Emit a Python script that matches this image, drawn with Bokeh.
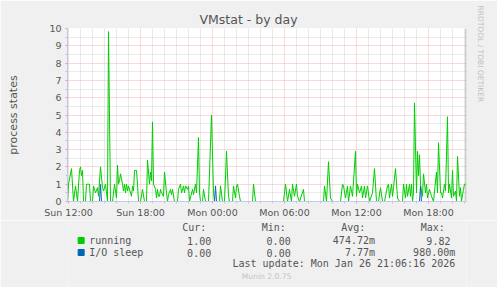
import math
from bokeh.plotting import figure
from bokeh.layouts import column
from bokeh.models import Range1d, FixedTicker, Label, Span, Title
from bokeh.embed import file_html
from bokeh.resources import INLINE

# ---- data: sample index (5-minute steps since Sun 12:00) and value ----
running_step = [-1, 0, 3, 5, 7, 9, 11, 12, 13, 14, 15, 17, 18, 21, 22, 24, 25, 27, 29, 30,
                32, 34, 35, 37, 39, 40, 42, 44, 46, 48, 49, 50, 51, 52, 54, 55, 56, 57, 58, 59,
                60, 62, 63, 64, 65, 66, 68, 69, 70, 72, 74, 76, 78, 79, 81, 82, 83, 84, 85, 87,
                88, 89, 90, 91, 92, 93, 95, 96, 98, 99, 100, 102, 103, 104, 106, 109, 110, 112, 113, 115,
                116, 117, 119, 120, 121, 124, 125, 127, 128, 130, 131, 132, 134, 135, 137, 140, 143, 145, 146, 151,
                152, 154, 156, 158, 160, 161, 164, 165, 167, 168, 169, 171, 172, 184, 185, 187, 215, 217, 219, 221,
                223, 224, 226, 228, 229, 231, 235, 236, 255, 256, 258, 260, 262, 264, 272, 274, 275, 277, 279, 280,
                282, 284, 287, 288, 289, 291, 293, 294, 296, 297, 299, 301, 304, 306, 308, 310, 312, 314, 316, 319,
                320, 321, 323, 324, 325, 327, 329, 331, 334, 335, 337, 338, 339, 341, 342, 343, 344, 345, 346, 348,
                349, 350, 351, 352, 353, 354, 355, 357, 358, 359, 361, 362, 363, 365, 366, 368, 369, 370, 372, 373,
                374, 376, 377, 379, 380, 381, 383, 384, 385, 387, 388, 389, 391, 392, 393, 395, 396, 397]
running_val = [0, 1.0, 1.9, 0, 0.9, 0, 1.8, 2.0, 1.5, 1.8, 0, 0, 1.0, 1.0, 0, 0, 0.9, 0.5, 0.8, 0.3,
               2.0, 0.8, 0.6, 1.0, 0, 9.82, 0, 0, 1.0, 0.2, 2.1, 1.0, 1.2, 1.6, 1.0, 0.6, 1.0, 0.5, 1.0, 0.6,
               0.9, 0.5, 0.3, 0.9, 0.6, 1.8, 1.8, 1.0, 0, 0, 0.7, 0, 0, 2.4, 1.0, 1.7, 1.2, 4.6, 1.0, 0.7,
               0.2, 0.7, 0.3, 0.3, 0.7, 0.5, 0.3, 1.7, 0.5, 0, 0.4, 0.7, 0.4, 0.7, 0, 0, 0.7, 1.0, 0.5, 0.9,
               0.5, 0.9, 0.7, 0.9, 0, 0.7, 0.4, 1.0, 0.5, 3.7, 0.5, 0, 0, 0.7, 0, 0, 5.0, 0.5, 0, 0,
               0.9, 0, 0, 2.9, 0.3, 0, 0, 0.9, 0.2, 0.9, 1.0, 0.3, 0, 0, 1.0, 0, 0, 1.0, 0, 0.7,
               0, 1.0, 0.3, 1.0, 0.3, 0, 0.7, 0, 0, 0.9, 0, 2.3, 0.2, 0, 0, 1.0, 0.9, 0.2, 0.9, 0,
               0.9, 0.3, 2.9, 0.3, 1.0, 0.5, 0.9, 0.2, 0.9, 0.2, 0.9, 0, 0.5, 1.9, 0, 0, 0.8, 0, 0, 0.9,
               1.0, 0.2, 1.0, 0.3, 0.8, 1.9, 0.2, 0, 0, 1.0, 0.2, 1.0, 0.3, 1.0, 0.3, 1.0, 0, 0.5, 5.7, 0.5,
               2.9, 1.5, 2.7, 1.0, 0.6, 0.3, 1.6, 0.5, 1.0, 0.2, 0.7, 0.5, 0.3, 0, 0.6, 1.7, 0.5, 3.4, 0.5, 0.5,
               0.2, 1.0, 0.6, 4.9, 0.5, 1.0, 0.2, 1.8, 0.3, 0.6, 0, 2.6, 0.3, 0.8, 0, 0.7, 1.0, 1.0]
io_step = [-1, 31, 32, 33, 146, 147, 148, 351, 352, 353, 397]
io_val = [0, 0, 0.98, 0, 0, 0.9, 0, 0, 0.9, 0, 0]

x_tick_hours = [0, 6, 12, 18, 24, 30]
x_tick_labels = ["Sun 12:00", "Sun 18:00", "Mon 00:00", "Mon 06:00", "Mon 12:00", "Mon 18:00"]
y_ticks = list(range(0, 11))

series_names = ["running", "I/O sleep"]
series_colors = ["#00CC00", "#0066B3"]
cur_vals = ["1.00", "0.00"]
min_vals = ["0.00", "0.00"]
avg_vals = ["474.72m", "7.77m"]
max_vals = ["9.82", "980.00m"]
headers = ["Cur:", "Min:", "Avg:", "Max:"]
last_update = "Last update: Mon Jan 26 21:06:16 2026"
title_text = "VMstat - by day"
y_label = "process states"
footer = "Munin 2.0.75"
watermark = "RRDTOOL / TOBI OETIKER"

SANS = "DejaVu Sans"
MONO = "DejaVu Sans Mono"
TXT = "#555555"
BG = "#F0F0F0"

# ---------------- chart ----------------
p = figure(width=497, height=220, output_backend="svg", toolbar_location=None,
           x_range=Range1d(-1 / 12, 398 / 12), y_range=Range1d(0, 10),
           min_border_left=67, min_border_right=31, min_border_top=28, min_border_bottom=17)
p.background_fill_color = "white"
p.border_fill_color = BG
p.outline_line_color = None

p.title.text = title_text
p.title.align = "left"
p.title.offset = 132
p.title.standoff = 3
p.title.text_font = SANS
p.title.text_font_size = "12.5px"
p.title.text_font_style = "normal"
p.title.text_color = TXT

p.add_layout(Title(text=watermark, align="left", offset=-23, text_font=SANS,
                   text_font_size="7.5px", text_font_style="normal",
                   text_color="#C0C0C0", standoff=18), "right")

p.xaxis.ticker = FixedTicker(ticks=x_tick_hours,
                             minor_ticks=[h for h in range(0, 34) if h % 6 != 0])
p.xaxis.major_label_overrides = {h: lab for h, lab in zip(x_tick_hours, x_tick_labels)}
p.yaxis.ticker = FixedTicker(ticks=y_ticks, minor_ticks=[t + 0.5 for t in range(10)])
for ax in (p.xaxis, p.yaxis):
    ax.axis_line_color = "#BFC9F5"
    ax.major_tick_in = 0
    ax.major_tick_out = 2
    ax.minor_tick_in = 0
    ax.minor_tick_out = 2
    ax.major_tick_line_color = "#E8A0A0"
    ax.minor_tick_line_color = "#C8C8C8"
    ax.major_label_text_font = SANS
    ax.major_label_text_font_size = "9.5px"
    ax.major_label_text_color = TXT
p.xaxis.major_label_standoff = 3
p.yaxis.major_label_standoff = 4
p.yaxis.axis_label = y_label
p.yaxis.axis_label_text_font = SANS
p.yaxis.axis_label_text_font_size = "11px"
p.yaxis.axis_label_text_font_style = "normal"
p.yaxis.axis_label_text_color = TXT
p.yaxis.axis_label_standoff = 26

for g in (p.xgrid, p.ygrid):
    g.grid_line_color = "#F0A0A0"
    g.grid_line_alpha = 0.8
    g.grid_line_dash = "1 1"
    g.minor_grid_line_color = "#D4D4D4"
    g.minor_grid_line_alpha = 1.0
    g.minor_grid_line_dash = "1 1"

p.line([s / 12 for s in running_step], running_val, color=series_colors[0], line_width=1)
p.line([s / 12 for s in io_step], io_val, color=series_colors[1], line_width=1)
p.add_layout(Span(location=397.5 / 12, dimension="height", line_color="#999999", line_width=1))

# ---------------- legend panel (pixel coordinates) ----------------
q = figure(width=497, height=67, output_backend="svg", toolbar_location=None,
           x_range=Range1d(0, 497), y_range=Range1d(287, 220),
           x_axis_location=None, y_axis_location=None,
           min_border_left=0, min_border_right=0, min_border_top=0, min_border_bottom=0)
q.background_fill_color = BG
q.border_fill_color = BG
q.outline_line_color = None
q.xgrid.visible = False
q.ygrid.visible = False

def lab(text, x, y, size, font=MONO, color=TXT, align="left"):
    q.add_layout(Label(x=x, y=y, text=text, text_font=font, text_font_size=size,
                       text_color=color, text_align=align, text_baseline="middle"))

header_right = [173, 272, 371, 470]
for h, r in zip(headers, header_right):
    lab(h, r, 227, "10px", align="right")

col_right = [185, 284, 383, 483]
rows_y = [240, 252]
q.scatter([17] * len(series_names), rows_y, marker="square", size=6,
          fill_color=series_colors, line_color=series_colors)
for i, name in enumerate(series_names):
    y = rows_y[i]
    lab(name, 27, y, "10px")
    for col, vals in zip(col_right, (cur_vals, min_vals, avg_vals, max_vals)):
        s = vals[i]
        r = col if s[-1].isalpha() else col - 6
        lab(s, r, y, "10px", align="right")

lab(last_update, 483, 263, "10px", align="right")
lab(footer, 248, 276, "7.6px", font=SANS, color="#C4C4C4", align="center")

layout = column(p, q, spacing=0)
open("out.html", "w").write(file_html(layout, INLINE))
